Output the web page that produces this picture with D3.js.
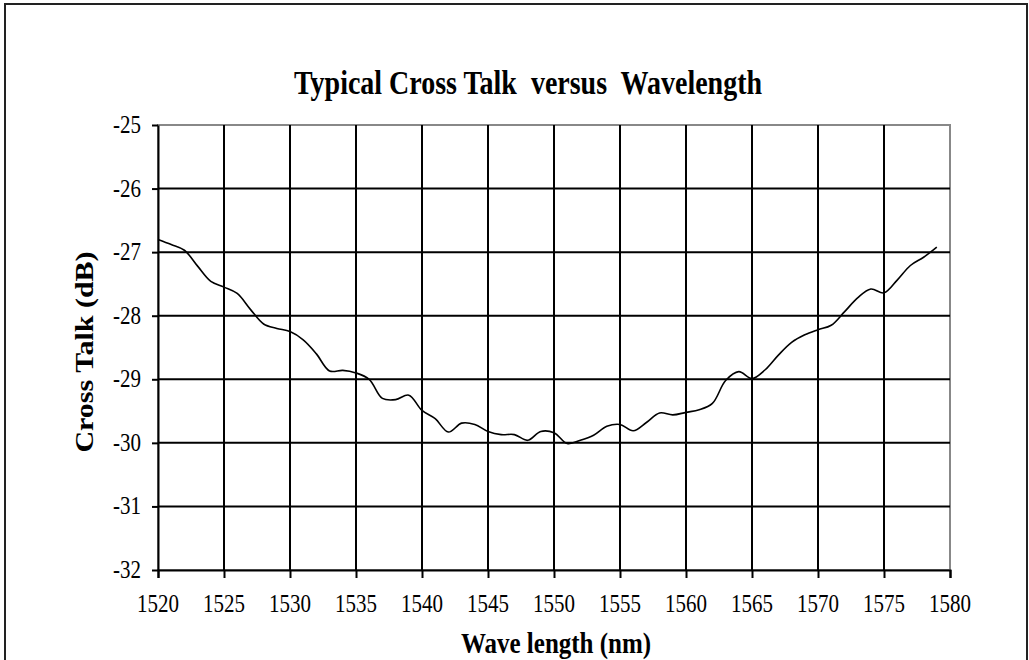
<!DOCTYPE html>
<meta charset="utf-8">
<style>
body { margin: 0; background: #fff; }
text { font-family: "Liberation Serif", "Times New Roman", serif; fill: #000; }
</style>
<body>
<script src="https://cdn.jsdelivr.net/npm/d3@7"></script>
<script>
// wavelength (nm) and cross talk (dB)
var wavelength = [1520,1521,1522,1523,1524,1525,1526,1527,1528,1529,
  1530,1531,1532,1533,1534,1535,1536,1537,1538,1539,
  1540,1541,1542,1543,1544,1545,1546,1547,1548,1549,
  1550,1551,1552,1553,1554,1555,1556,1557,1558,1559,
  1560,1561,1562,1563,1564,1565,1566,1567,1568,1569,
  1570,1571,1572,1573,1574,1575,1576,1577,1578,1579];
var crossTalk = [-26.80,-26.88,-26.97,-27.22,-27.46,-27.55,-27.65,-27.90,-28.13,-28.20,
  -28.25,-28.38,-28.60,-28.87,-28.86,-28.90,-29.00,-29.30,-29.32,-29.25,
  -29.49,-29.62,-29.83,-29.69,-29.71,-29.82,-29.87,-29.87,-29.96,-29.82,
  -29.84,-30.01,-29.96,-29.88,-29.74,-29.71,-29.81,-29.68,-29.53,-29.56,
  -29.52,-29.48,-29.38,-29.02,-28.88,-28.99,-28.85,-28.62,-28.42,-28.30,
  -28.22,-28.15,-27.94,-27.72,-27.58,-27.64,-27.44,-27.21,-27.08,-26.92];
var xTicks = [1520,1525,1530,1535,1540,1545,1550,1555,1560,1565,1570,1575,1580];
var yTicks = [-25,-26,-27,-28,-29,-30,-31,-32];

var W = 1029, H = 660;
var pLeft = 158, pRight = 950, pTop = 125, pBottom = 570;
var stretch = 1.2; // text in the picture is a bit taller than wide

var svg = d3.select("body").append("svg")
    .attr("width", W)
    .attr("height", H);

// outer frame
svg.append("rect")
    .attr("x", 5).attr("y", 4)
    .attr("width", 1022).attr("height", 700)
    .attr("fill", "none")
    .attr("stroke", "#222")
    .attr("stroke-width", 2);

var x = d3.scaleLinear().domain([1520, 1580]).range([pLeft, pRight]);
var y = d3.scaleLinear().domain([-32, -25]).range([pBottom, pTop]);

// plot area border (grey on top and right)
svg.append("rect")
    .attr("x", pLeft).attr("y", pTop)
    .attr("width", pRight - pLeft).attr("height", pBottom - pTop)
    .attr("fill", "none")
    .attr("stroke", "#888")
    .attr("stroke-width", 2);

// grid
svg.append("g").selectAll("line")
    .data(xTicks.slice(1, -1))
    .enter().append("line")
    .attr("x1", function(d) { return x(d); })
    .attr("x2", function(d) { return x(d); })
    .attr("y1", pTop).attr("y2", pBottom)
    .attr("stroke", "#000")
    .attr("stroke-width", 2);

svg.append("g").selectAll("line")
    .data(yTicks.slice(1, -1))
    .enter().append("line")
    .attr("x1", pLeft).attr("x2", pRight)
    .attr("y1", function(d) { return y(d); })
    .attr("y2", function(d) { return y(d); })
    .attr("stroke", "#000")
    .attr("stroke-width", 2);

// axes
var xAxis = svg.append("g")
    .attr("transform", "translate(0," + pBottom + ")")
    .call(d3.axisBottom(x).tickValues(xTicks).tickSize(8).tickSizeOuter(8).tickFormat(d3.format("d")));
var yAxis = svg.append("g")
    .attr("transform", "translate(" + pLeft + ",0)")
    .call(d3.axisLeft(y).tickValues(yTicks).tickSize(6).tickSizeOuter(0).tickFormat(d3.format("d")));

[xAxis, yAxis].forEach(function(a) {
  a.select(".domain").attr("stroke", "#000").attr("stroke-width", 2);
  a.selectAll(".tick line").attr("stroke", "#000").attr("stroke-width", 2);
  a.selectAll(".tick text").remove();
});

// tick labels, stretched vertically like the picture
svg.append("g").selectAll("text")
    .data(xTicks)
    .enter().append("text")
    .attr("transform", function(d) { return "translate(" + x(d) + ",612) scale(1," + stretch + ")"; })
    .attr("text-anchor", "middle")
    .style("font-size", "21px")
    .text(function(d) { return d; });

svg.append("g").selectAll("text")
    .data(yTicks)
    .enter().append("text")
    .attr("transform", function(d) { return "translate(141," + (y(d) + 8) + ") scale(1," + stretch + ")"; })
    .attr("text-anchor", "end")
    .style("font-size", "21px")
    .text(function(d) { return d; });

// the curve
var pts = wavelength.map(function(w, i) { return [w, crossTalk[i]]; });
svg.append("path")
    .datum(pts)
    .attr("fill", "none")
    .attr("stroke", "#000")
    .attr("stroke-width", 1.6)
    .attr("d", d3.line()
      .x(function(d) { return x(d[0]); })
      .y(function(d) { return y(d[1]); })
      .curve(d3.curveCatmullRom.alpha(0.5)));

// title
svg.append("text")
    .attr("transform", "translate(528,94) scale(1," + stretch + ")")
    .attr("text-anchor", "middle")
    .style("font-size", "28px")
    .style("font-weight", "bold")
    .style("white-space", "pre")
    .text("Typical Cross Talk  versus  Wavelength");

// axis titles
svg.append("text")
    .attr("transform", "translate(556,653) scale(1," + stretch + ")")
    .attr("text-anchor", "middle")
    .style("font-size", "25px")
    .style("font-weight", "bold")
    .text("Wave length (nm)");

svg.append("text")
    .attr("transform", "translate(93,352) rotate(-90) scale(" + stretch + ",1)")
    .attr("text-anchor", "middle")
    .style("font-size", "25px")
    .style("font-weight", "bold")
    .text("Cross Talk (dB)");
</script>
</body>
